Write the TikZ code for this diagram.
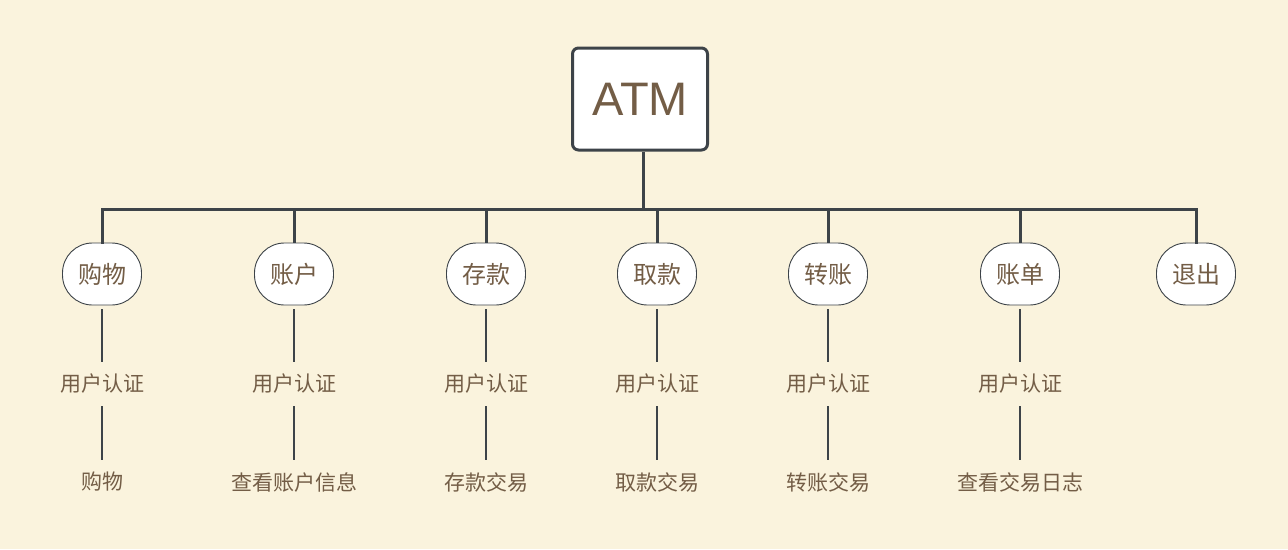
\documentclass[tikz,border=0pt]{standalone}
\usepackage{fontspec}
\setmainfont{Liberation Sans}
\newfontfamily\cjk{Noto Sans CJK SC}
\definecolor{bgcream}{RGB}{250, 243, 221}
\definecolor{linegray}{RGB}{61, 67, 72}
\definecolor{textbrown}{RGB}{115, 93, 70}
\usetikzlibrary{positioning}

\tikzset{
  rootbox/.style={draw=linegray, line width=3pt, fill=white, rounded corners=6pt,
    minimum width=135pt, minimum height=102pt, text=textbrown,
    font=\fontsize{47}{54}\selectfont},
  menubox/.style={draw=linegray, line width=0.9pt, fill=white, rounded corners=30pt,
    minimum width=79pt, minimum height=62pt, inner sep=0pt, text=textbrown,
    font=\cjk\fontsize{24}{27}\selectfont},
  stepnote/.style={text=textbrown, minimum height=44pt, inner sep=0pt,
    font=\cjk\fontsize{21}{25}\selectfont},
  trunk/.style={linegray, line width=3pt},
  twig/.style={linegray, line width=1.2pt}
}

\begin{document}
\begin{tikzpicture}[x=1pt, y=-1pt]
  \fill[bgcream] (0,0) rectangle (1288,549);
  \useasboundingbox (0,0) rectangle (1288,549);

  % === root ===
  \node[rootbox] (atm) at (640, 99) {ATM};
  \coordinate (fork) at (643, 209);

  % === menu items ===
  \node[menubox] (shop)     at (102, 274) {购物};
  \node[menubox] (account)  at (294, 274) {账户};
  \node[menubox] (deposit)  at (486, 274) {存款};
  \node[menubox] (withdraw) at (657, 274) {取款};
  \node[menubox] (transfer) at (828, 274) {转账};
  \node[menubox] (bill)     at (1020, 274) {账单};
  \node[menubox] (quit)     at (1196, 274) {退出};

  % === trunk lines ===
  \draw[trunk] (atm.south -| fork) -- (fork);
  \draw[trunk, line cap=rect] (shop.north) |- (fork) -| (quit.north);
  \foreach \item in {account, deposit, withdraw, transfer, bill}
    \draw[trunk] (\item.north) -- (\item.north |- fork);

  % === steps under each item ===
  \foreach \item/\leaf/\last in {shop/shopleaf/购物, account/accountleaf/查看账户信息,
      deposit/depositleaf/存款交易, withdraw/withdrawleaf/取款交易,
      transfer/transferleaf/转账交易, bill/billleaf/查看交易日志} {
    \node[stepnote] (\item auth) at (\item |- 0,384) {用户认证};
    \node[stepnote] (\leaf) at (\item |- 0,482) {\last};
    \draw[twig, shorten <=4pt] (\item.south) -- (\item auth.north);
    \draw[twig] (\item auth.south) -- (\leaf.north);
  }
\end{tikzpicture}
\end{document}
